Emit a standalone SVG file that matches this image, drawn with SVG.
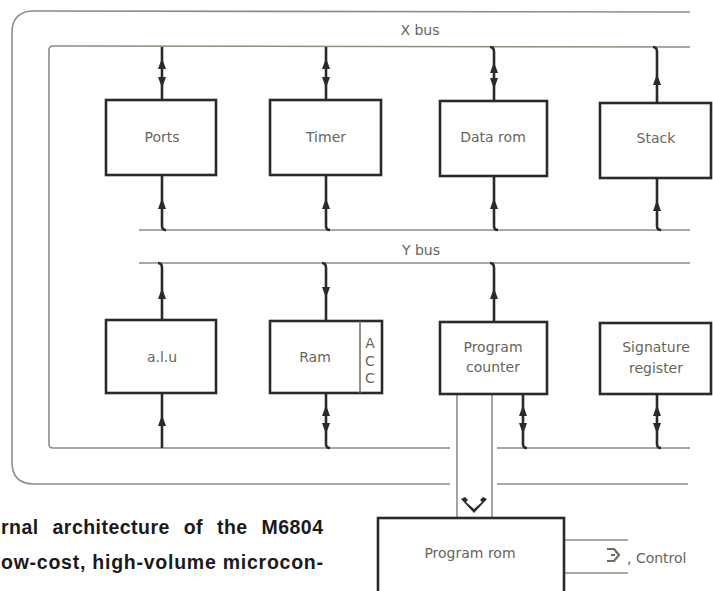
<svg xmlns="http://www.w3.org/2000/svg" width="713" height="591" viewBox="0 0 713 591">
<style>
.bus{fill:none;stroke:#8c8e7e;stroke-width:1.6}
.box{fill:#fff;stroke:#2b2b26;stroke-width:2.6}
.con{fill:none;stroke:#2b2b26;stroke-width:2.6}
.hd{fill:#2b2b26}
.lbl{font-family:"DejaVu Sans","Liberation Sans",sans-serif;font-size:14px;fill:#66665a;text-anchor:middle}
.cap{font-family:"Liberation Sans",Arial,sans-serif;font-size:19.5px;font-weight:bold;fill:#1a1a1a}
.hol{fill:none;stroke:#6b6b60;stroke-width:2.2;stroke-linejoin:miter}
</style>
<defs>
<path id="up" d="M0,0 L4,11 L-4,11 Z"/>
<path id="dn" d="M0,0 L4,-11 L-4,-11 Z"/>
</defs>
<rect width="713" height="591" fill="#fff"/>

<g id="buses">
<path class="bus" d="M690,12 L34,11 Q12,11 12,33 L12,462 Q12,484 34,484 L450,484"/>
<path class="bus" d="M497,484 L688,484"/>
<path class="bus" d="M690,47 L53,46 Q49,46 49,50 L49,444 Q49,448 53,448 L450,448"/>
<path class="bus" d="M497,448 L690,448"/>
<path class="bus" d="M139,230 L690,230"/>
<path class="bus" d="M139,263 L690,263"/>
<path class="bus" d="M457,394 L457,518"/>
<path class="bus" d="M492,394 L492,518"/>
<path class="bus" d="M564,540 L628,540"/>
<path class="bus" d="M564,573 L628,573"/>
<text class="lbl" x="420" y="35">X bus</text>
<text class="lbl" x="421" y="255">Y bus</text>
</g>

<g id="connectors">
<path class="con" d="M162,47 L162,100"/>
<use class="hd" href="#up" x="162" y="58"/><use class="hd" href="#dn" x="162" y="88"/>
<path class="con" d="M326,47 L326,100"/>
<use class="hd" href="#up" x="326" y="58"/><use class="hd" href="#dn" x="326" y="88"/>
<path class="con" d="M490,47 Q494,47 494,52 L494,100"/>
<use class="hd" href="#up" x="494" y="62"/><use class="hd" href="#dn" x="494" y="89"/>
<path class="con" d="M653,47 Q657,47 657,52 L657,103"/>
<use class="hd" href="#up" x="657" y="74"/>

<path class="con" d="M162,175 L162,226 Q162,230 166,230"/>
<use class="hd" href="#up" x="162" y="198"/>
<path class="con" d="M326,175 L326,226 Q326,230 330,230"/>
<use class="hd" href="#up" x="326" y="198"/>
<path class="con" d="M494,176 L494,226 Q494,230 498,230"/>
<use class="hd" href="#up" x="494" y="198"/>
<path class="con" d="M657,178 L657,226 Q657,230 661,230"/>
<use class="hd" href="#up" x="657" y="200"/>

<path class="con" d="M158,263 Q162,263 162,268 L162,320"/>
<use class="hd" href="#up" x="162" y="288"/>
<path class="con" d="M322,263 Q326,263 326,268 L326,321"/>
<use class="hd" href="#dn" x="326" y="298"/>
<path class="con" d="M490,263 Q494,263 494,268 L494,322"/>
<use class="hd" href="#up" x="494" y="288"/>

<path class="con" d="M162,393 L162,448"/>
<use class="hd" href="#up" x="162" y="415"/>
<path class="con" d="M326,393 L326,444 Q326,448 330,448"/>
<use class="hd" href="#up" x="326" y="405"/><use class="hd" href="#dn" x="326" y="434"/>
<path class="con" d="M523,394 L523,444 Q523,448 527,448"/>
<use class="hd" href="#up" x="523" y="405"/><use class="hd" href="#dn" x="523" y="434"/>
<path class="con" d="M657,394 L657,444 Q657,448 661,448"/>
<use class="hd" href="#up" x="657" y="405"/><use class="hd" href="#dn" x="657" y="434"/>

<path fill="#2b2b26" d="M461,499 L465,497 L468,500 L466,502 L474,509 L482,502 L480,500 L483,497 L487,499 L474,513 Z"/>
<path class="hol" d="M607,549 L614,549 L619,555 L614,561 L607,561 M611,555 L615,555"/>
</g>

<g id="ports"><rect class="box" x="106" y="100" width="110" height="75"/><text class="lbl" x="162" y="142">Ports</text></g>
<g id="timer"><rect class="box" x="270" y="100" width="111" height="75"/><text class="lbl" x="326" y="142">Timer</text></g>
<g id="datarom"><rect class="box" x="440" y="101" width="107" height="75"/><text class="lbl" x="493" y="142">Data rom</text></g>
<g id="stack"><rect class="box" x="600" y="103" width="111" height="75"/><text class="lbl" x="656" y="143">Stack</text></g>

<g id="alu"><rect class="box" x="106" y="320" width="110" height="73"/><text class="lbl" x="162" y="362">a.l.u</text></g>
<g id="ram"><rect class="box" x="270" y="321" width="112" height="72"/>
<line x1="360" y1="321" x2="360" y2="393" stroke="#6b6b60" stroke-width="1.5"/>
<text class="lbl" x="315" y="362">Ram</text>
<text class="lbl" x="370" y="348">A</text><text class="lbl" x="370" y="366">C</text><text class="lbl" x="370" y="383">C</text></g>
<g id="pc"><rect class="box" x="440" y="322" width="107" height="72"/><text class="lbl" x="493" y="352">Program</text><text class="lbl" x="493" y="372">counter</text></g>
<g id="sig"><rect class="box" x="600" y="323" width="111" height="71"/><text class="lbl" x="656" y="352">Signature</text><text class="lbl" x="656" y="373">register</text></g>

<g id="progrom"><rect class="box" x="378" y="518" width="186" height="90"/><text class="lbl" x="470" y="558">Program rom</text></g>
<text class="lbl" x="627" y="563" style="text-anchor:start">, Control</text>

<text class="cap" x="1" y="534" style="word-spacing:8px" textLength="322" lengthAdjust="spacing">rnal architecture of the M6804</text>
<text class="cap" x="1" y="569" textLength="322" lengthAdjust="spacing">ow-cost, high-volume microcon-</text>
</svg>
